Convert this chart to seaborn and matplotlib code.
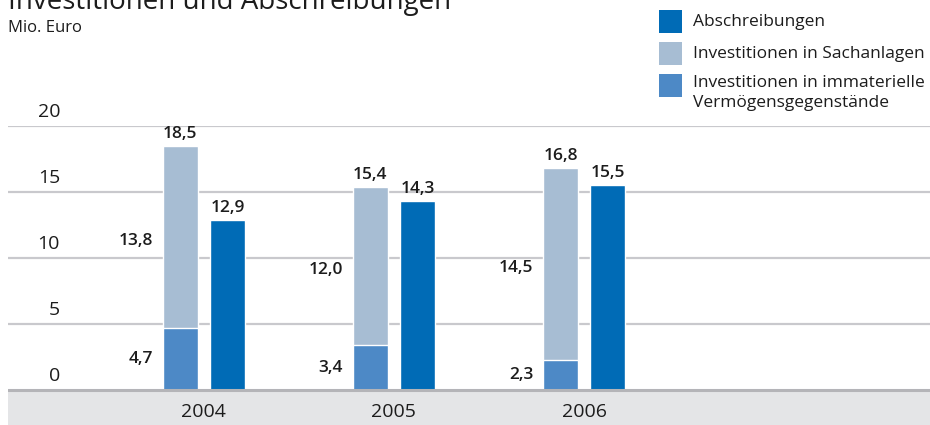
import matplotlib.pyplot as plt
import matplotlib.patches as mpatches
import pandas as pd
import seaborn as sns

# values (Mio. Euro)
years = ['2004', '2005', '2006']
immaterielle = [4.7, 3.4, 2.3]
sachanlagen = [13.8, 12.0, 14.5]
abschreibungen = [12.9, 14.3, 15.5]
y_ticks = [0, 5, 10, 15, 20]

legend_labels = ['Abschreibungen', 'Investitionen in Sachanlagen',
                 'Investitionen in immaterielle\nVermögensgegenstände']

c_abs = '#006bb6'
c_sach = '#a7bdd3'
c_imm = '#4d89c6'
c_band = '#e4e5e7'
c_grid = '#c9c9cd'
c_text = '#1c1c1c'

W, H = 930, 425


def fx(x):
    return x / W


def fy(y):
    return 1 - y / H


def de(v):
    return f'{v:.1f}'.replace('.', ',')


totals = [a + b for a, b in zip(immaterielle, sachanlagen)]

df_main = pd.DataFrame({
    'year': years * 2,
    'value': totals + abschreibungen,
    'series': ['inv'] * 3 + ['abs'] * 3,
})
df_imm = pd.DataFrame({'year': years, 'value': immaterielle, 'series': ['inv'] * 3})

sns.set_style('white')
plt.rcParams['font.family'] = ['Open Sans', 'DejaVu Sans']
plt.rcParams['text.color'] = c_text

fig = plt.figure(figsize=(9.3, 4.25), dpi=100)
ax = fig.add_axes([fx(8), 0, fx(922), (425 - 126) / H])

# bars: total investment (light) with intangible part drawn over it
bar_kw = dict(x='year', y='value', hue='series', hue_order=['inv', 'abs'], order=years,
              width=0.496, gap=0.258, dodge=True, saturation=1, legend=False, ax=ax)
sns.barplot(data=df_main, palette={'inv': c_sach, 'abs': c_abs}, **bar_kw)
sns.barplot(data=df_imm, palette={'inv': c_imm, 'abs': c_abs}, **bar_kw)

ax.set_ylim(-35 / 13.2, 20)
ax.set_xlim(-1.03, 3.82)
ax.axhspan(-35 / 13.2, 0, color=c_band, zorder=0)

for t in y_ticks[1:]:
    ax.axhline(t, color=c_grid, lw=1.6, zorder=0.5)
ax.axhline(0, color='#b4b4b8', lw=2.2, zorder=3)

for t in y_ticks:
    ax.text(52 / 922, t + 0.4, str(t), transform=ax.get_yaxis_transform(),
            ha='right', va='bottom', fontsize=14)

for i, yr in enumerate(years):
    ax.text(i, -1.67, yr, ha='center', va='center', fontsize=14)

ax.set_xticks([])
ax.set_yticks([])
ax.set_xlabel('')
ax.set_ylabel('')
sns.despine(ax=ax, left=True, bottom=True)

# value labels
inv_bars = ax.containers[0]
abs_bars = ax.containers[1]
imm_bars = ax.containers[-1] if len(ax.containers[-1]) == 3 else ax.containers[-2]

lab_kw = dict(fontsize=12.5, fontweight='semibold', textcoords='offset points')
for bar, tot in zip(inv_bars, totals):
    cx = bar.get_x() + bar.get_width() / 2
    ax.annotate(de(tot), (cx, bar.get_height()), xytext=(0, 3), ha='center', va='bottom', **lab_kw)
for bar, imm, sach in zip(imm_bars, immaterielle, sachanlagen):
    ax.annotate(de(sach), (bar.get_x(), imm + sach / 2), xytext=(-7, -3), ha='right', va='center', **lab_kw)
    ax.annotate(de(imm), (bar.get_x(), imm / 2), xytext=(-7, 0), ha='right', va='center', **lab_kw)
for bar, v in zip(abs_bars, abschreibungen):
    cx = bar.get_x() + bar.get_width() / 2
    ax.annotate(de(v), (cx, bar.get_height()), xytext=(0, 3), ha='center', va='bottom', **lab_kw)

# title (cut at the top edge) and unit
fig.text(fx(8), fy(9), 'Investitionen und Abschreibungen', fontsize=20, va='baseline', ha='left')
fig.text(fx(8), fy(28), 'Mio. Euro', fontsize=12, va='center', ha='left')

# legend
for k, (lab, col) in enumerate(zip(legend_labels, [c_abs, c_sach, c_imm])):
    top = 10 + 32 * k
    fig.add_artist(mpatches.Rectangle((fx(659), fy(top + 23)), fx(23), 23 / H,
                                      transform=fig.transFigure, color=col, lw=0))
    if '\n' in lab:
        fig.text(fx(693), fy(top + 1), lab, fontsize=12.5, va='top', ha='left', linespacing=1.3)
    else:
        fig.text(fx(693), fy(top + 11.5), lab, fontsize=12.5, va='center', ha='left')

fig.savefig('out.png', dpi=100)
